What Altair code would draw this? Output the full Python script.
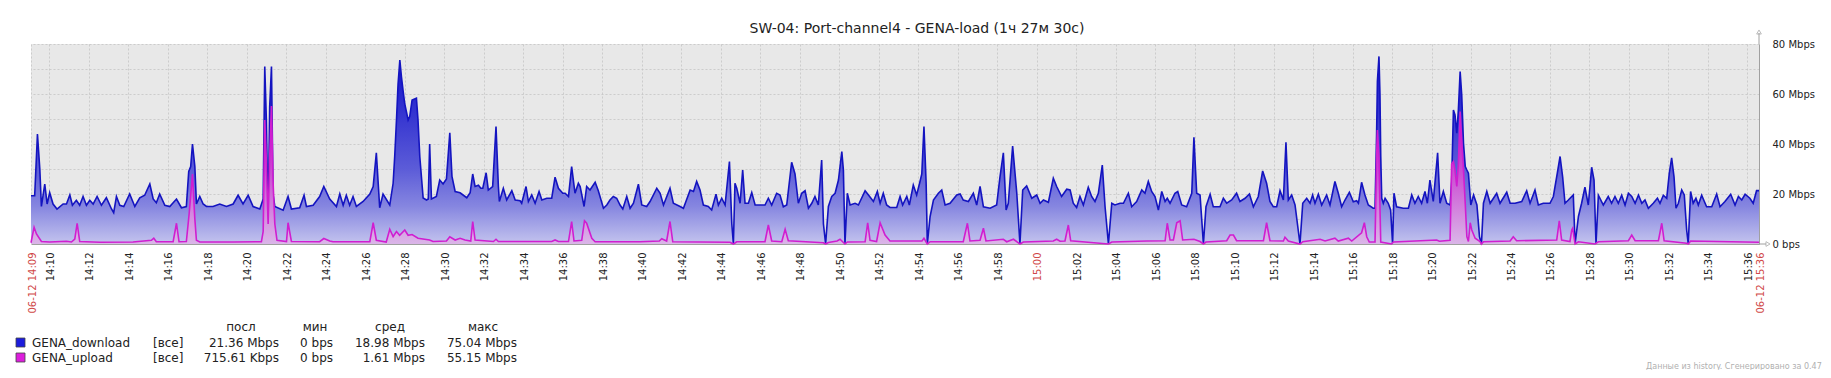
import altair as alt
import pandas as pd

TITLE = "SW-04: Port-channel4 - GENA-load (1ч 27м 30с)"
FOOTER = "Данные из history. Сгенерировано за 0.47 сек."

# time in minutes after 14:00, value in Mbps
download = [
    (9.083, 19.3), (9.27, 19.3), (9.41, 44), (9.53, 30), (9.61, 15), (9.78, 24), (9.90, 16),
    (10.03, 20.5), (10.2, 16), (10.4, 14), (10.71, 16), (10.88, 16), (11.05, 19.6), (11.18, 15.5),
    (11.38, 17.5), (11.55, 15.5), (11.72, 19), (11.89, 15.5), (12.06, 17.5), (12.23, 16), (12.43, 19),
    (12.65, 15.5), (12.9, 18.5), (13.16, 14), (13.27, 12.5), (13.41, 19), (13.58, 15.5), (13.78, 15),
    (14.08, 20), (14.34, 15), (14.59, 18.5), (14.84, 19.5), (15.1, 24), (15.27, 18), (15.43, 16.5),
    (15.6, 20), (15.86, 15.5), (16.11, 15), (16.45, 18), (16.7, 14.5), (16.95, 15), (17.07, 29),
    (17.17, 31), (17.26, 40), (17.38, 31), (17.46, 16), (17.63, 19), (17.8, 16), (17.97, 15),
    (18.3, 15), (18.64, 16), (18.98, 15), (19.32, 16), (19.57, 19.5), (19.82, 16), (20.08, 19.5),
    (20.33, 15), (20.67, 14), (20.84, 18), (20.92, 71), (21.0, 50), (21.09, 8), (21.17, 55),
    (21.26, 71), (21.34, 20), (21.43, 15), (21.85, 13.5), (22.1, 19), (22.27, 14), (22.69, 14.5),
    (22.91, 19.5), (23.03, 15), (23.37, 15.5), (23.7, 19), (23.91, 23), (24.21, 18), (24.55, 15),
    (24.72, 20), (24.89, 15.5), (25.05, 19.5), (25.22, 15.5), (25.39, 19), (25.56, 15), (25.9, 17),
    (26.24, 20), (26.41, 23), (26.57, 36.5), (26.74, 14.5), (26.91, 20), (27.25, 15.6), (27.42, 24.3),
    (27.5, 35), (27.59, 49.6), (27.67, 64), (27.76, 73.6), (27.84, 67), (27.92, 61.6), (28.01, 56),
    (28.18, 49.6), (28.26, 51), (28.38, 57.6), (28.6, 58.3), (28.68, 49.6), (28.77, 35), (28.94, 18.4),
    (29.11, 17.6), (29.2, 18), (29.27, 40), (29.36, 18), (29.61, 19), (29.78, 25.6), (29.95, 24),
    (30.12, 26), (30.29, 44.5), (30.4, 27), (30.56, 21), (30.81, 20.5), (31.15, 18.5), (31.32, 20.5),
    (31.45, 28), (31.57, 23), (31.74, 23.5), (31.86, 22.3), (31.96, 22.3), (32.13, 28.5), (32.24, 21.6),
    (32.46, 23), (32.63, 47), (32.75, 23), (32.8, 17), (33.0, 22.3), (33.17, 17.6), (33.43, 21.3),
    (33.6, 17.6), (33.85, 17.3), (33.93, 16.3), (34.15, 23), (34.27, 17), (34.44, 19.6), (34.61, 16.3),
    (34.81, 21), (34.95, 17.6), (35.2, 18.3), (35.45, 18.3), (35.62, 26.7), (35.79, 22.3), (36.01, 20.3),
    (36.13, 20.3), (36.3, 19), (36.46, 31), (36.63, 20.3), (36.8, 24.3), (36.89, 23), (37.09, 15),
    (37.22, 23), (37.39, 21.6), (37.65, 24.7), (37.81, 21.3), (38.07, 14.3), (38.24, 15.6), (38.4, 17.6),
    (38.57, 19), (38.74, 18.3), (38.91, 15.6), (39.05, 14), (39.25, 19), (39.42, 14.3), (39.59, 16.3),
    (39.84, 23.9), (40.01, 15.6), (40.26, 15), (40.43, 17), (40.77, 22.3), (40.94, 20.3), (41.11, 15.6),
    (41.44, 22.3), (41.61, 16.3), (41.95, 15), (42.12, 14.3), (42.46, 21.6), (42.63, 21), (42.79, 25),
    (42.96, 21.6), (43.13, 15.6), (43.38, 15), (43.55, 13.6), (43.77, 19.9), (43.89, 15.6), (44.06, 18.3),
    (44.23, 15.6), (44.45, 33), (44.57, 8), (44.65, 0), (44.73, 24.3), (44.82, 22.3), (44.99, 16.3),
    (45.12, 29.6), (45.24, 16.3), (45.41, 16.3), (45.58, 20.6), (45.75, 15.6), (46.0, 15.6), (46.25, 15.6),
    (46.42, 18.3), (46.59, 15.6), (46.84, 20.3), (47.01, 19.6), (47.18, 14.9), (47.35, 15.6), (47.6, 32.7),
    (47.77, 28), (47.94, 16.3), (48.11, 20.3), (48.28, 21.3), (48.45, 14.3), (48.62, 16.3), (48.78, 19),
    (48.95, 15.6), (49.12, 33.6), (49.21, 8), (49.32, 0), (49.46, 15), (49.63, 19), (49.8, 20.3),
    (49.97, 25.6), (50.14, 37), (50.22, 29.6), (50.3, 0), (50.42, 20.3), (50.56, 15.6), (50.81, 16.3),
    (50.98, 15.6), (51.32, 21.3), (51.49, 19.6), (51.74, 17), (51.94, 21), (52.08, 16.3), (52.24, 20.3),
    (52.41, 15.6), (52.58, 14.6), (52.92, 14.6), (53.09, 19), (53.22, 15.6), (53.43, 19), (53.56, 15.6),
    (53.76, 23.6), (53.93, 19.6), (54.1, 25), (54.19, 28), (54.3, 47), (54.41, 24.3), (54.47, 0),
    (54.61, 11), (54.78, 17.6), (55.03, 20.3), (55.2, 21.6), (55.37, 15.6), (55.62, 16.3), (55.96, 19.6),
    (56.13, 20), (56.29, 17.6), (56.55, 17), (56.8, 20.3), (56.97, 15.6), (57.14, 23), (57.31, 14.9),
    (57.65, 14.3), (57.98, 15.6), (58.15, 26.9), (58.32, 36.5), (58.46, 13.6), (58.57, 16.3), (58.79, 39.2),
    (59.0, 20.3), (59.16, 0), (59.3, 21.6), (59.5, 23.2), (59.76, 18.3), (60.01, 19.6), (60.18, 16.3),
    (60.35, 17.6), (60.6, 16.7), (60.85, 26.3), (61.02, 23), (61.27, 19), (61.53, 21.9), (61.7, 21.6),
    (61.86, 16.3), (62.03, 14.6), (62.2, 19), (62.37, 15.6), (62.62, 22.7), (62.79, 19), (62.96, 17),
    (63.13, 20.3), (63.33, 31.6), (63.47, 14.9), (63.64, 0), (63.81, 16.3), (63.97, 15.6), (64.23, 16.3),
    (64.4, 16.3), (64.65, 20.3), (64.82, 14.9), (65.07, 17), (65.33, 21.6), (65.49, 20.3), (65.66, 25),
    (65.83, 21), (66.0, 19), (66.17, 13.6), (66.34, 21), (66.51, 17), (66.62, 18.3), (66.76, 16.3),
    (67.01, 20.3), (67.15, 21), (67.35, 15.6), (67.6, 14.9), (67.86, 20.3), (67.97, 42.7), (68.11, 20.3),
    (68.28, 19.6), (68.45, 0), (68.58, 14.9), (68.79, 19.9), (68.95, 14.9), (69.29, 14.9), (69.46, 18.3),
    (69.63, 16.3), (69.88, 17.6), (70.13, 20.3), (70.3, 17), (70.56, 18.3), (70.78, 20), (70.98, 14.9),
    (71.23, 19), (71.45, 29.2), (71.65, 24.3), (71.82, 17), (71.99, 14.9), (72.16, 14.9), (72.33, 21.3),
    (72.5, 17.6), (72.63, 40.7), (72.75, 17.6), (72.92, 19.6), (73.09, 15.6), (73.34, 0), (73.48, 16.3),
    (73.68, 18.3), (73.85, 16.3), (73.98, 19.6), (74.1, 16.3), (74.27, 19.9), (74.44, 15.6), (74.69, 19.6),
    (74.86, 15.6), (75.11, 25), (75.28, 20.3), (75.45, 14.9), (75.62, 17.6), (75.84, 20.7), (76.04, 16.9),
    (76.21, 17.3), (76.3, 16.3), (76.46, 24.7), (76.63, 19.6), (76.8, 15.6), (77.05, 14.3), (77.14, 14.3),
    (77.22, 44), (77.26, 65), (77.34, 75.04), (77.39, 60), (77.43, 35), (77.48, 18.3), (77.56, 16.3),
    (77.65, 18.3), (77.81, 16.3), (77.93, 13.6), (78.03, 0), (78.1, 20.3), (78.23, 14.9), (78.57, 14.3),
    (78.83, 14.3), (79.0, 19.6), (79.16, 16.3), (79.33, 19), (79.5, 16.3), (79.67, 21), (79.79, 16.3),
    (79.92, 25.6), (80.09, 17), (80.31, 36.5), (80.43, 16.3), (80.6, 21), (80.77, 16.3), (80.94, 15.6),
    (81.02, 25), (81.11, 53.6), (81.19, 51.6), (81.28, 44.3), (81.36, 53.6), (81.45, 69), (81.53, 59.6),
    (81.62, 40.3), (81.71, 31), (81.79, 29.6), (81.87, 28.3), (81.99, 15.6), (82.13, 19.6), (82.3, 15.6),
    (82.43, 2.9), (82.53, 0), (82.63, 16.3), (82.8, 21), (82.97, 16.3), (83.3, 20.3), (83.47, 16.3),
    (83.81, 20.7), (83.98, 16.3), (84.23, 16.3), (84.57, 17), (84.82, 21.3), (84.99, 16.3), (85.24, 21.6),
    (85.41, 15.6), (85.66, 16.3), (86.0, 16.3), (86.17, 19), (86.37, 28.3), (86.51, 35), (86.64, 26.9),
    (86.76, 16.3), (86.93, 17.6), (87.18, 19.6), (87.27, 0), (87.44, 11), (87.6, 16.3), (87.77, 22.7),
    (87.94, 15.6), (88.11, 30.7), (88.23, 25.6), (88.33, 0), (88.45, 19.5), (88.7, 15.6), (88.95, 19),
    (89.12, 16.3), (89.29, 19), (89.46, 16.3), (89.63, 19.5), (89.8, 15.6), (89.97, 20.3), (90.14, 19),
    (90.31, 16.3), (90.48, 19.6), (90.65, 16.3), (90.81, 17.6), (90.98, 14.3), (91.23, 16.3), (91.44, 18.3),
    (91.57, 16.3), (91.74, 19.5), (91.91, 18.3), (92.04, 28.3), (92.16, 34.5), (92.28, 26.9), (92.38, 14.3),
    (92.5, 16.3), (92.67, 21.6), (92.8, 19.6), (92.92, 5.6), (93.0, 0), (93.12, 21), (93.25, 16.3),
    (93.39, 18.3), (93.51, 15.6), (93.68, 19.5), (93.93, 14.9), (94.19, 14.9), (94.44, 20), (94.61, 14.9),
    (94.86, 17), (95.15, 19.9), (95.37, 15.6), (95.54, 19), (95.71, 17.6), (95.88, 19.9), (96.12, 18.3),
    (96.29, 16.3), (96.46, 21.36), (96.583, 21.36),
]

upload = [
    (9.083, 0.5), (9.24, 6.7), (9.36, 4), (9.61, 1), (10.03, 0.8), (10.88, 1.1), (11.13, 0.8), (11.3, 2),
    (11.42, 8.3), (11.55, 1), (12.57, 0.7), (14.25, 0.8), (15.18, 1.5), (15.3, 2.3), (15.43, 0.9),
    (16.28, 0.9), (16.45, 8.3), (16.58, 0.9), (16.95, 1), (17.09, 12), (17.26, 28), (17.38, 10),
    (17.46, 1.5), (17.63, 0.8), (19.32, 0.8), (20.75, 0.9), (20.84, 5), (20.92, 49.6), (21.0, 33),
    (21.09, 8), (21.17, 35), (21.26, 55.15), (21.34, 25), (21.43, 8), (21.54, 1.5), (22.02, 1),
    (22.1, 8.5), (22.27, 1), (23.7, 0.9), (23.91, 2.2), (24.21, 1.2), (24.38, 0.9), (26.24, 0.9),
    (26.41, 8.5), (26.57, 1.5), (27.07, 0.8), (27.25, 5.9), (27.42, 3), (27.59, 5), (27.75, 3.5),
    (28.01, 5.6), (28.18, 3.5), (28.38, 3.8), (28.68, 2.3), (29.27, 1.6), (29.44, 1), (30.12, 1.2),
    (30.29, 2.9), (30.56, 1.6), (30.81, 2.3), (31.06, 1.6), (31.35, 1.2), (31.45, 9), (31.57, 1.6),
    (32.5, 1), (32.63, 1.9), (32.75, 1), (35.45, 1), (35.62, 1.6), (35.79, 1), (36.3, 1), (36.46, 9),
    (36.58, 1.2), (36.97, 1.5), (37.11, 9.3), (37.22, 8.3), (37.48, 2.3), (37.65, 0.9), (39.92, 0.9),
    (40.9, 1.2), (41.02, 2.1), (41.27, 1.2), (41.44, 9), (41.58, 0.9), (44.48, 0.7), (44.65, 0),
    (44.82, 0.9), (46.25, 0.9), (46.42, 7.6), (46.59, 1.2), (47.1, 0.9), (47.27, 5.9), (47.43, 1.3),
    (49.21, 0.5), (49.32, 0), (49.46, 0.6), (49.9, 1.2), (50.05, 1.9), (50.3, 0), (50.42, 0.8),
    (51.32, 0.9), (51.45, 8.5), (51.57, 1.5), (51.9, 1), (52.08, 8.5), (52.33, 3.6), (52.58, 1.2),
    (54.2, 1.2), (54.3, 2.3), (54.47, 0), (54.61, 0.9), (56.29, 0.9), (56.5, 8.3), (56.63, 1.2),
    (57.14, 1.5), (57.31, 6.3), (57.44, 1.2), (58.32, 1.9), (58.49, 0.9), (58.83, 1.9), (59.16, 0),
    (59.33, 0.8), (60.85, 1.2), (61.02, 1.9), (61.19, 1.1), (61.44, 1.2), (61.61, 7.6), (61.73, 1.3),
    (63.64, 0), (63.81, 0.8), (65.58, 1.2), (66.51, 1.3), (66.62, 8.3), (66.76, 1.6), (66.93, 1.6),
    (67.1, 8.5), (67.27, 9.3), (67.4, 1.6), (67.97, 1.9), (68.28, 1.0), (68.45, 0), (68.58, 0.8),
    (69.63, 1.3), (69.8, 3.6), (69.97, 3.6), (70.13, 1.3), (71.49, 1.3), (71.65, 8.5), (71.82, 1.3),
    (72.5, 1.2), (72.58, 2.7), (72.75, 1.2), (73.34, 0), (73.48, 0.9), (74.36, 1.9), (74.61, 1.2),
    (75.11, 2.3), (75.28, 1.2), (75.79, 2.3), (75.96, 1.2), (76.46, 4.5), (76.6, 8.5), (76.72, 2.9),
    (76.85, 0.8), (77.14, 0.8), (77.22, 35), (77.26, 45.6), (77.34, 35), (77.39, 15), (77.43, 0.8),
    (77.98, 0), (78.07, 0.8), (80.26, 1.6), (80.4, 1.1), (80.94, 1.5), (81.02, 32), (81.11, 33),
    (81.19, 29.6), (81.28, 23), (81.36, 32), (81.45, 53), (81.53, 41.6), (81.62, 29.6), (81.71, 16),
    (81.79, 3), (81.87, 1), (81.96, 8.5), (82.04, 5.6), (82.21, 2.3), (82.46, 1), (82.53, 0),
    (82.63, 0.9), (83.98, 1.2), (84.14, 2.9), (84.31, 1.3), (86.34, 1.6), (86.47, 9.3), (86.59, 1.6),
    (87.01, 1), (87.1, 5.6), (87.15, 6.3), (87.27, 0), (87.44, 0.9), (88.28, 0), (88.45, 0.9),
    (89.97, 1.3), (90.14, 3.6), (90.31, 1.3), (91.49, 1.3), (91.66, 8.3), (91.78, 1.3), (92.92, 0.3),
    (93.0, 0), (93.12, 1.2), (96.583, 0.72),
]

series_names = ["GENA_download", "GENA_upload"]
series_scope = ["[все]", "[все]"]
stat_headers = ["посл", "мин", "сред", "макс"]
stat_last = ["21.36 Mbps", "715.61 Kbps"]
stat_min = ["0 bps", "0 bps"]
stat_avg = ["18.98 Mbps", "1.61 Mbps"]
stat_max = ["75.04 Mbps", "55.15 Mbps"]

T_START = 9 + 5 / 60
T_END = 96 + 35 / 60
x_ticks = [T_START] + list(range(10, 97, 2)) + [T_END]
y_ticks = [0, 10, 20, 30, 40, 50, 60, 70, 80]

FONT = "DejaVu Sans"
W, H = 1728, 200
DL_LINE, UL_LINE = "#1414c0", "#d01ed0"
DL_KEY, UL_KEY = "#1c1cdc", "#dc1edc"
RED = "#d04848"

dl = pd.DataFrame(download, columns=["t", "v"])
ul = pd.DataFrame(upload, columns=["t", "v"])

label_expr = (
    "datum.value < 9.5 ? '06-12 14:09' : datum.value > 96.3 ? '06-12 15:36' : "
    "(14 + floor(round(datum.value) / 60)) + ':' + (round(datum.value) % 60 < 10 ? '0' : '') + (round(datum.value) % 60)"
)

x_enc = alt.X(
    "t:Q",
    scale=alt.Scale(domain=[T_START, T_END], nice=False, zero=False),
    axis=alt.Axis(
        values=x_ticks, labelExpr=label_expr, title=None, labelAngle=270,
        labelAlign="right", labelBaseline="middle", labelPadding=8, labelOffset=1,
        ticks=False, tickSize=0, labelOverlap=False, labelBound=False, labelFlush=False,
        labelFontSize=10, labelFont=FONT,
        labelColor={"condition": {"test": "datum.value < 9.5 || datum.value > 96.3 || datum.value == 60",
                                  "value": RED}, "value": "#222222"},
        grid=True, gridDash=[2, 2], gridColor="#c4c4c4", gridOpacity=0.8,
        domain=True, domainColor="#a0a0a0", domainWidth=1,
    ),
)
y_enc = alt.Y(
    "v:Q",
    scale=alt.Scale(domain=[0, 80], nice=False, zero=True),
    axis=alt.Axis(
        orient="right", values=y_ticks, title=None,
        labelExpr="datum.value % 20 != 0 ? '' : datum.value == 0 ? '0 bps' : datum.value + ' Mbps'",
        ticks=False, tickSize=0, labelPadding=13, labelFontSize=10, labelFont=FONT, labelColor="#222222",
        grid=True, gridDash=[2, 2], gridColor="#c4c4c4", gridOpacity=0.8,
        domain=True, domainColor="#a0a0a0", domainWidth=1,
    ),
)

dl_grad = alt.Gradient(
    gradient="linear", x1=0, x2=0, y1=0, y2=1,
    stops=[alt.GradientStop(color="#1010c8", offset=0),
           alt.GradientStop(color="#3434d0", offset=0.3),
           alt.GradientStop(color="#5c5cd8", offset=0.6),
           alt.GradientStop(color="#8686e0", offset=0.8),
           alt.GradientStop(color="#c4c4ee", offset=1)],
)
ul_grad = alt.Gradient(
    gradient="linear", x1=0, x2=0, y1=0, y2=1,
    stops=[alt.GradientStop(color="#c400c8", offset=0),
           alt.GradientStop(color="#cc50d4", offset=0.5),
           alt.GradientStop(color="#dab6e8", offset=1)],
)

dl_area = alt.Chart(dl).mark_area(color=dl_grad, interpolate="linear").encode(x=x_enc, y=y_enc)
dl_line = alt.Chart(dl).mark_line(color=DL_LINE, strokeWidth=1.6, interpolate="linear").encode(x=x_enc, y=y_enc)
ul_area = alt.Chart(ul).mark_area(color=ul_grad, interpolate="linear").encode(x=x_enc, y=y_enc)
ul_line = alt.Chart(ul).mark_line(color=UL_LINE, strokeWidth=1.6, interpolate="linear").encode(x=x_enc, y=y_enc)

one = pd.DataFrame({"k": [0]})
axis_ext = alt.Chart(one).mark_rule(color="#a0a0a0", strokeWidth=1).encode(
    x=alt.value(W), y=alt.value(-11), y2=alt.value(0))
axis_ext_x = alt.Chart(one).mark_rule(color="#a0a0a0", strokeWidth=1).encode(
    x=alt.value(W), x2=alt.value(W + 7), y=alt.value(H))
arrow_up = alt.Chart(one).mark_point(shape="triangle-up", filled=False, color="#a0a0a0", size=22,
                                     strokeWidth=1).encode(x=alt.value(W), y=alt.value(-12))
arrow_right = alt.Chart(one).mark_point(shape="triangle-right", filled=False, color="#a0a0a0", size=22,
                                        strokeWidth=1).encode(x=alt.value(W + 9), y=alt.value(H))

# title as a text mark (centred on the whole image)
title_df = pd.DataFrame({"ttl": [TITLE]})
title = alt.Chart(title_df).mark_text(align="center", baseline="middle", font=FONT, fontSize=14,
                                      color="#222222").encode(x=alt.value(886), y=alt.value(-15), text="ttl:N")

# legend
legend_df = pd.DataFrame({
    "idx": [0, 1], "name": series_names, "scope": series_scope,
    "last": stat_last, "min": stat_min, "avg": stat_avg, "max": stat_max,
})
hdr_df = pd.DataFrame({"h": stat_headers})
row_y = [298.5, 313.5]
key_colors = [DL_KEY, UL_KEY]
legend_layers = []
for i in range(2):
    base = alt.Chart(legend_df).transform_filter(alt.datum.idx == i)
    legend_layers.append(
        base.mark_rect(color=key_colors[i], stroke="#444444", strokeWidth=0.8).encode(
            x=alt.value(-15), x2=alt.value(-6), y=alt.value(row_y[i] - 4.5), y2=alt.value(row_y[i] + 4.5)))
    legend_layers.append(
        base.mark_text(align="left", baseline="middle", font=FONT, fontSize=12, color="#222222").encode(
            x=alt.value(1), y=alt.value(row_y[i]), text="name:N"))
    legend_layers.append(
        base.mark_text(align="left", baseline="middle", font=FONT, fontSize=12, color="#222222").encode(
            x=alt.value(122), y=alt.value(row_y[i]), text="scope:N"))
    for col, xr in zip(["last", "min", "avg", "max"], [248, 302, 394, 486]):
        legend_layers.append(
            base.mark_text(align="right", baseline="middle", font=FONT, fontSize=12, color="#222222").encode(
                x=alt.value(xr), y=alt.value(row_y[i]), text=f"{col}:N"))
hdr_x = [210, 284, 359, 452]
for j in range(4):
    legend_layers.append(
        alt.Chart(hdr_df).transform_filter(alt.datum.h == stat_headers[j]).mark_text(
            align="center", baseline="middle", font=FONT, fontSize=12, color="#222222").encode(
            x=alt.value(hdr_x[j]), y=alt.value(283), text="h:N"))

footer_df = pd.DataFrame({"f": [FOOTER]})
footer = alt.Chart(footer_df).mark_text(align="left", baseline="middle", font=FONT, fontSize=8,
                                        color="#b0b0b0").encode(x=alt.value(1615), y=alt.value(323), text="f:N")

chart = alt.layer(
    dl_area, dl_line, ul_area, ul_line, axis_ext, axis_ext_x, arrow_up, arrow_right, title, footer,
    *legend_layers
).properties(
    width=W, height=H,
    autosize=alt.AutoSizeParams(type="none"),
    padding={"left": 23, "top": 36, "right": 64, "bottom": 126},
).configure_view(
    fill="#e8e8e8", stroke=None
).configure_axis(
    zindex=1
)

chart.save("out.html", embed_options={"renderer": "svg", "actions": False})
